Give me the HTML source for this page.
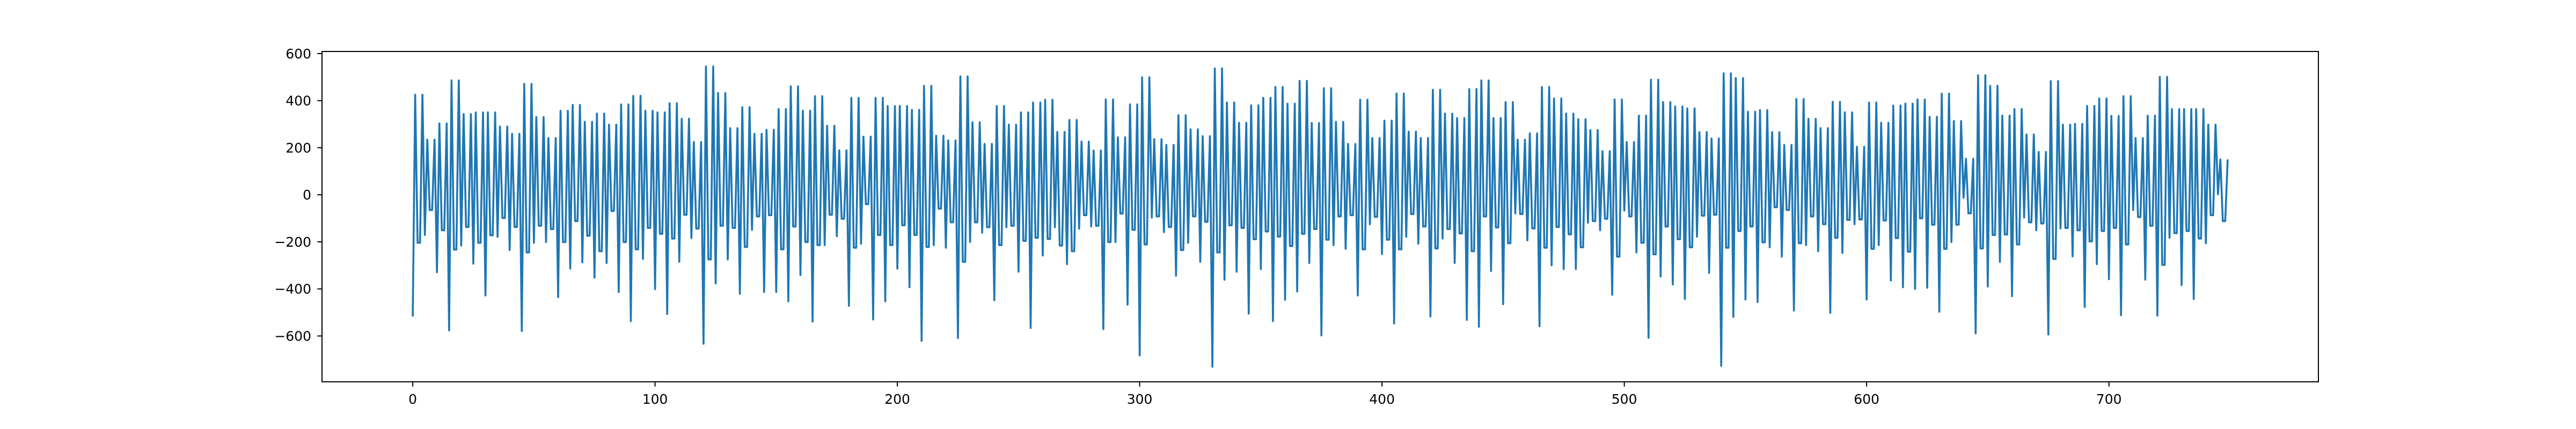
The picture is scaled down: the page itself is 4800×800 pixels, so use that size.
<!DOCTYPE html>
<html><head><meta charset="utf-8"><style>
html,body{margin:0;padding:0;background:#fff;}
svg{display:block;font-family:"DejaVu Sans","Liberation Sans",sans-serif;}
</style></head><body>
<svg id="chart" width="4800" height="800" viewBox="0 0 4800 800" xmlns="http://www.w3.org/2000/svg">
<rect x="0" y="0" width="4800" height="800" fill="#fff"/>
<g id="plot"></g>
</svg>
<script>
// Per 5-point group: point 0 = groupLow, 1 = groupHigh, 2-3 = groupMid, 4 = groupHigh
const groupLow = [-517,-171,-329,-576,-216,-293,-428,-179,-235,-579,-204,-201,-435,-314,-287,-352,-290,-413,-537,-273,-401,-507,-285,-184,-633,-377,-275,-421,-149,-413,-413,-453,-341,-539,-214,-176,-472,-208,-530,-453,-314,-393,-621,-214,-225,-609,-201,-161,-448,-138,-327,-566,-258,-138,-295,-144,-135,-571,-201,-467,-683,-97,-159,-344,-204,-285,-731,-361,-327,-505,-316,-537,-446,-411,-290,-598,-214,-230,-428,-125,-252,-547,-179,-208,-517,-186,-290,-532,-561,-324,-465,-79,-194,-559,-300,-316,-316,-119,-151,-425,-67,-245,-608,-347,-381,-443,-178,-332,-727,-519,-445,-456,-223,-263,-492,-214,-240,-502,-247,-125,-445,-214,-364,-393,-400,-395,-497,-201,-13,-589,-390,-285,-431,-97,-151,-594,-143,-262,-477,-295,-359,-512,-65,-361,-514,-183,-384,-443,-206,2];
const groupHigh = [425,234,303,486,343,350,350,290,259,471,330,241,357,382,310,345,298,384,420,357,350,389,323,224,545,432,283,372,259,276,364,461,357,419,293,189,412,247,412,377,377,361,463,251,231,503,308,216,377,298,350,392,404,267,318,226,188,405,244,384,499,236,212,338,278,249,537,392,306,380,412,458,387,484,305,453,310,216,404,241,315,430,268,241,446,345,326,449,486,326,394,234,261,458,409,345,321,275,185,405,224,336,489,394,375,367,266,239,516,496,353,360,266,212,407,323,283,395,350,204,392,306,379,387,405,331,430,313,153,508,463,336,364,256,182,483,298,301,377,409,335,419,241,336,501,364,364,364,298,150];
const groupMid = [-204,-65,-151,-233,-137,-204,-172,-99,-137,-245,-132,-146,-201,-112,-174,-240,-69,-201,-232,-141,-166,-186,-85,-144,-275,-132,-141,-222,-92,-87,-232,-135,-201,-214,-85,-102,-225,-40,-171,-214,-130,-171,-222,-59,-117,-285,-117,-138,-214,-132,-196,-183,-188,-216,-240,-87,-132,-201,-80,-149,-211,-92,-137,-235,-92,-115,-245,-130,-141,-189,-156,-178,-218,-166,-146,-191,-92,-87,-232,-94,-191,-232,-82,-135,-228,-146,-164,-240,-92,-139,-206,-82,-143,-225,-137,-168,-223,-112,-102,-263,-92,-204,-253,-135,-189,-223,-89,-85,-225,-154,-135,-202,-53,-65,-206,-92,-125,-183,-107,-105,-230,-109,-184,-242,-100,-127,-230,-127,-79,-228,-171,-169,-211,-117,-122,-273,-141,-151,-198,-154,-141,-211,-95,-132,-298,-163,-154,-186,-87,-112];
const xTicks = [0,100,200,300,400,500,600,700];
const yTicks = [-600,-400,-200,0,200,400,600];

const NS = "http://www.w3.org/2000/svg";
const L = 600, R = 4320, T = 96, B = 712;
const values = [];
for (let g = 0; g < groupLow.length; g++) {
  values.push(groupLow[g], groupHigh[g], groupMid[g], groupMid[g], groupHigh[g]);
}
const n = values.length;
const xr = (n - 1) * 0.05;
const xMin = -xr, xMax = (n - 1) + xr;
const vMin = Math.min(...values), vMax = Math.max(...values);
const yr = (vMax - vMin) * 0.05;
const yMin = vMin - yr, yMax = vMax + yr;
function sx(v){ return L + (v - xMin) / (xMax - xMin) * (R - L); }
function sy(v){ return B - (v - yMin) / (yMax - yMin) * (B - T); }

const plot = document.getElementById('plot');
function mk(tag, attrs){ const e = document.createElementNS(NS, tag); for (const k in attrs) e.setAttribute(k, attrs[k]); return e; }

let d = "";
values.forEach((v, i) => { d += (i ? "L" : "M") + sx(i).toFixed(2) + "," + sy(v).toFixed(2); });
const line = mk('path', {d: d, fill: 'none', stroke: '#1f77b4', 'stroke-width': 3.6, 'stroke-linejoin': 'round', 'stroke-linecap': 'butt'});


plot.appendChild(line);

const frame = mk('rect', {x: L, y: T, width: R - L, height: B - T, fill: 'none', stroke: '#000', 'stroke-width': 2});


plot.appendChild(frame);

xTicks.forEach(t => {
  const x = sx(t);
  const tk = mk('line', {x1: x, y1: B, x2: x, y2: B + 8.75, stroke: '#000', 'stroke-width': 2});
  
  
  plot.appendChild(tk);
  const tx = mk('text', {x: x, y: B + 41, 'text-anchor': 'middle', 'font-size': 25, fill: '#000'});
  tx.textContent = String(t);
  
  
  plot.appendChild(tx);
});
yTicks.forEach(t => {
  const y = sy(t);
  const tk = mk('line', {x1: L - 8.75, y1: y, x2: L, y2: y, stroke: '#000', 'stroke-width': 2});
  
  
  plot.appendChild(tk);
  const tx = mk('text', {x: L - 20, y: y + 9, 'text-anchor': 'end', 'font-size': 25, fill: '#000'});
  tx.textContent = t < 0 ? '\u2212' + Math.abs(t) : String(t);
  
  
  plot.appendChild(tx);
});
</script>
</body></html>
